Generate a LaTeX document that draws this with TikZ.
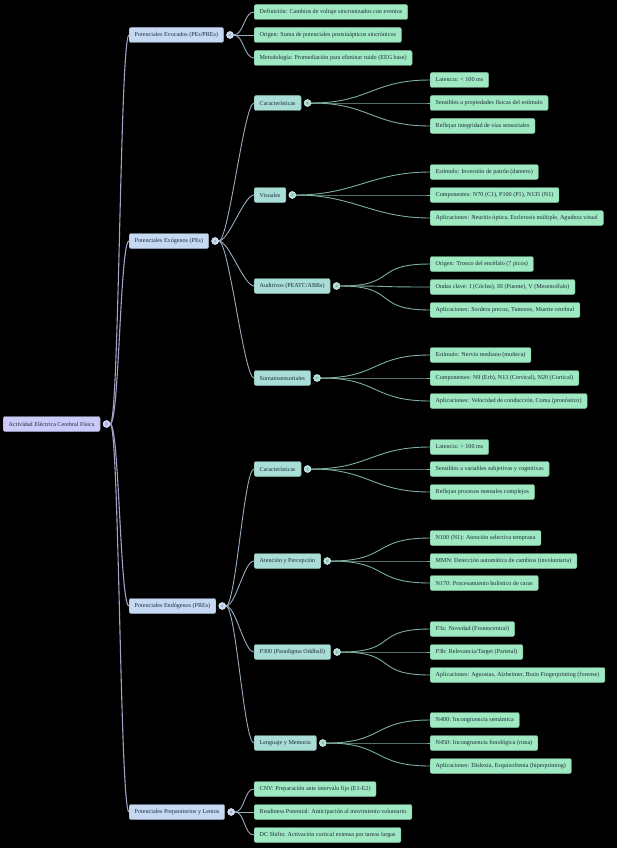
\documentclass[tikz,border=0pt]{standalone}
\usepackage{fontspec}
\setmainfont{Liberation Serif}
\usetikzlibrary{positioning, calc, backgrounds}
\definecolor{canvasbg}{HTML}{000000}
\definecolor{rootfill}{HTML}{CACBF9}
\definecolor{groupfill}{HTML}{C6D9F3}
\definecolor{topicfill}{HTML}{A8DED5}
\definecolor{leaffill}{HTML}{9EE9C1}
\definecolor{inkdark}{HTML}{1E293B}
\definecolor{rootline}{HTML}{A0A1C4}
\definecolor{groupline}{HTML}{9AABBD}
\definecolor{topicline}{HTML}{7DAE9E}
\tikzset{
  mapbox/.style={rounded corners=2pt, line width=0.4pt, anchor=west, align=left, text=inkdark, font=\fontsize{6.1}{7}\selectfont, minimum height=15pt, inner xsep=5.5pt, inner ysep=2pt},
  rootbox/.style={mapbox, fill=rootfill, draw=rootfill!80!black},
  groupbox/.style={mapbox, fill=groupfill, draw=groupfill!80!black},
  topicbox/.style={mapbox, fill=topicfill, draw=topicfill!80!black},
  leafbox/.style={mapbox, fill=leaffill, draw=leaffill!80!black},
  knob/.style={circle, minimum size=7pt, inner sep=0pt, line width=0.5pt, fill=#1, draw=white!70!#1,
    path picture={\draw[inkdark!55, line width=0.4pt] ([xshift=0.9pt,yshift=1.2pt]path picture bounding box.center) -- ([xshift=-0.8pt]path picture bounding box.center) -- ([xshift=0.9pt,yshift=-1.2pt]path picture bounding box.center);}},
  link/.style={to path={.. controls ($(\tikztostart)+(#1,0)$) and ($(\tikztotarget)+(-#1,0)$) .. (\tikztotarget)}},
  rootlink/.style={link=9, draw=rootline, line width=1.1pt},
  grouplink/.style={link=10, draw=groupline, line width=0.9pt},
  topiclink/.style={link=58, draw=topicline, line width=0.9pt},
}
\begin{document}
\begin{tikzpicture}[x=1pt, y=-1pt]
  \path[use as bounding box] (0,0) rectangle (617,848);

  % root and main groups
  \node[rootbox] (root) at (3,424) {Actividad Eléctrica Cerebral Física};
  \node[knob=rootfill, right=2.5pt of root] (kroot) {};
  \node[groupbox] (evok) at (129,35) {Potenciales Evocados (PEs/PREs)};
  \node[groupbox] (exog) at (129,241) {Potenciales Exógenos (PEs)};
  \node[groupbox] (endog) at (129,606) {Potenciales Endógenos (PREs)};
  \node[groupbox] (prep) at (129,812) {Potenciales Preparatorios y Lentos};
  \foreach \g in {evok, exog, endog, prep}
    \node[knob=groupfill, right=2.5pt of \g] (k\g) {};

  % evocados
  \node[leafbox] (evokA) at (254,12) {Definición: Cambios de voltaje sincronizados con eventos};
  \node[leafbox] (evokB) at (254,35) {Origen: Suma de potenciales postsinápticos sincrónicos};
  \node[leafbox] (evokC) at (254,58) {Metodología: Promediación para eliminar ruido (EEG base)};

  % exogenos
  \node[topicbox] (exoCar) at (254,103) {Características};
  \node[topicbox] (exoVis) at (254,195) {Visuales};
  \node[topicbox] (exoAud) at (254,286) {Auditivos (PEATC/ABRs)};
  \node[topicbox] (exoSom) at (254,378) {Somatosensoriales};
  \node[leafbox] (exoCarA) at (430,80) {Latencia: < 100 ms};
  \node[leafbox] (exoCarB) at (430,103) {Sensibles a propiedades físicas del estímulo};
  \node[leafbox] (exoCarC) at (430,126) {Reflejan integridad de vías sensoriales};
  \node[leafbox] (exoVisA) at (430,172) {Estímulo: Inversión de patrón (damero)};
  \node[leafbox] (exoVisB) at (430,195) {Componentes: N70 (C1), P100 (P1), N135 (N1)};
  \node[leafbox] (exoVisC) at (430,218) {Aplicaciones: Neuritis óptica, Esclerosis múltiple, Agudeza visual};
  \node[leafbox] (exoAudA) at (430,264) {Origen: Tronco del encéfalo (7 picos)};
  \node[leafbox] (exoAudB) at (430,287) {Ondas clave: I (Cóclea), III (Puente), V (Mesencéfalo)};
  \node[leafbox] (exoAudC) at (430,310) {Aplicaciones: Sordera precoz, Tumores, Muerte cerebral};
  \node[leafbox] (exoSomA) at (430,355) {Estímulo: Nervio mediano (muñeca)};
  \node[leafbox] (exoSomB) at (430,378) {Componentes: N9 (Erb), N13 (Cervical), N20 (Cortical)};
  \node[leafbox] (exoSomC) at (430,401) {Aplicaciones: Velocidad de conducción, Coma (pronóstico)};

  % endogenos
  \node[topicbox] (endCar) at (254,469) {Características};
  \node[topicbox] (endAte) at (254,561) {Atención y Percepción};
  \node[topicbox] (endPtr) at (254,652) {P300 (Paradigma Oddball)};
  \node[topicbox] (endLen) at (254,743) {Lenguaje y Memoria};
  \node[leafbox] (endCarA) at (430,447) {Latencia: > 100 ms};
  \node[leafbox] (endCarB) at (430,469) {Sensibles a variables subjetivas y cognitivas};
  \node[leafbox] (endCarC) at (430,492) {Reflejan procesos mentales complejos};
  \node[leafbox] (endAteA) at (430,538) {N100 (N1): Atención selectiva temprana};
  \node[leafbox] (endAteB) at (430,561) {MMN: Detección automática de cambios (involuntaria)};
  \node[leafbox] (endAteC) at (430,583) {N170: Procesamiento holístico de caras};
  \node[leafbox] (endPtrA) at (430,629) {P3a: Novedad (Frontocentral)};
  \node[leafbox] (endPtrB) at (430,652) {P3b: Relevancia/Target (Parietal)};
  \node[leafbox] (endPtrC) at (430,675) {Aplicaciones: Agnosias, Alzheimer, Brain Fingerprinting (forense)};
  \node[leafbox] (endLenA) at (430,720) {N400: Incongruencia semántica};
  \node[leafbox] (endLenB) at (430,743) {N450: Incongruencia fonológica (rima)};
  \node[leafbox] (endLenC) at (430,766) {Aplicaciones: Dislexia, Esquizofrenia (hiperpriming)};

  % preparatorios
  \node[leafbox] (prepA) at (254,789) {CNV: Preparación ante intervalo fijo (E1-E2)};
  \node[leafbox] (prepB) at (254,812) {Readiness Potential: Anticipación al movimiento voluntario};
  \node[leafbox] (prepC) at (254,835) {DC Shifts: Activación cortical extensa por tareas largas};

  \foreach \t in {exoCar, exoVis, exoAud, exoSom, endCar, endAte, endPtr, endLen}
    \node[knob=topicfill, right=2.5pt of \t] (k\t) {};

  % canvas and connectors behind the boxes
  \begin{scope}[on background layer]
    \fill[canvasbg] (0,0) rectangle (617,848);
    \foreach \g in {evok, exog, endog, prep}
      \draw[rootlink] (kroot.east) to (\g.west);
    \foreach \c in {evokA, evokB, evokC}
      \draw[grouplink] (kevok.east) to (\c.west);
    \foreach \c in {exoCar, exoVis, exoAud, exoSom}
      \draw[grouplink] (kexog.east) to (\c.west);
    \foreach \c in {endCar, endAte, endPtr, endLen}
      \draw[grouplink] (kendog.east) to (\c.west);
    \foreach \c in {prepA, prepB, prepC}
      \draw[grouplink] (kprep.east) to (\c.west);
    \foreach \t in {exoCar, exoVis, exoAud, exoSom, endCar, endAte, endPtr, endLen}
      \foreach \s in {A, B, C}
        \draw[topiclink] (k\t.east) to (\t\s.west);
  \end{scope}
\end{tikzpicture}
\end{document}
